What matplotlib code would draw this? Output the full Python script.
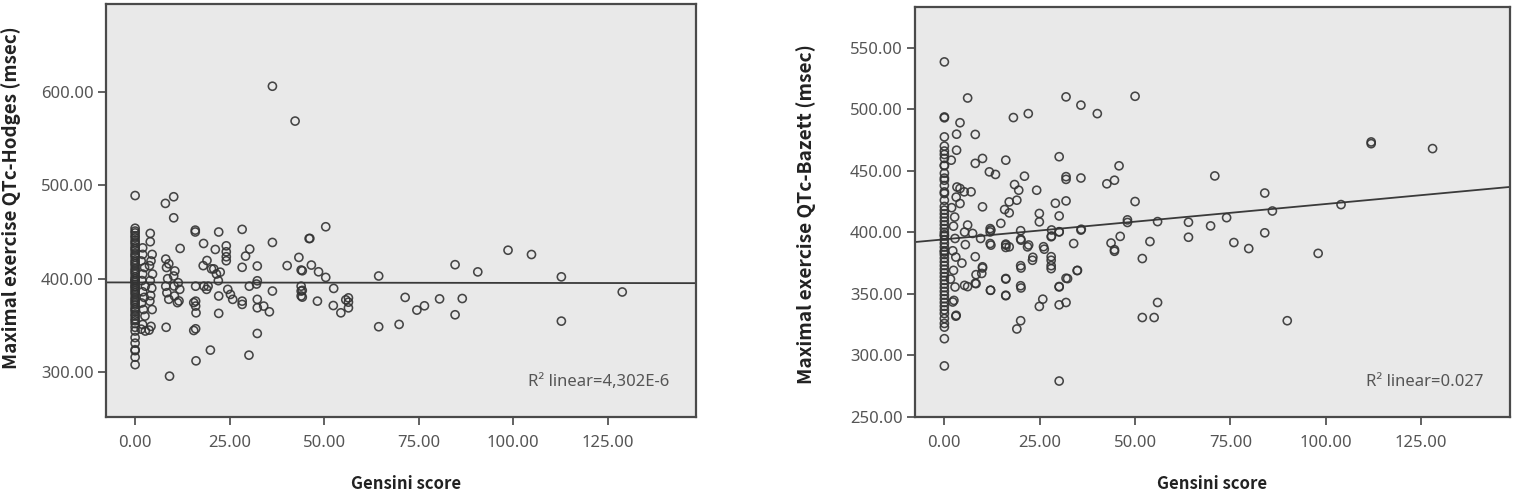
import matplotlib.pyplot as plt
import numpy as np

plt.rcParams.update(
    {
        "font.family": ["Noto Sans", "DejaVu Sans"],
        "font.size": 12,
    }
)
BOLD_FONT = ["Noto Sans CJK KR", "DejaVu Sans"]

# ---- left panel: Gensini score vs QTc-Hodges ----
hodges_gensini = [
    # x = 0 column
    0, 0, 0, 0, 0, 0, 0, 0, 0, 0, 0, 0, 0, 0, 0, 0, 0, 0, 0, 0,
    0, 0, 0, 0, 0, 0, 0, 0, 0, 0, 0, 0, 0, 0, 0, 0, 0, 0, 0, 0,
    0, 0, 0, 0, 0, 0, 0, 0, 0, 0, 0, 0, 0, 0, 0, 0,
    # small scores
    2, 2, 1.6, 2.5, 2, 1.8, 2.7, 2, 2.4, 1.7, 2.2, 2.6, 2, 1.6, 2.7,
    4, 4, 4.5, 4.2, 3.8, 4.6, 4, 4.4, 4.1, 3.9, 4.5, 4.2, 3.7,
    8, 10.2, 8.1, 8.9, 8.3, 8.6, 8.1, 8.4, 8.9, 8.2, 9.1,
    10.2, 11.9, 10.5, 10.2, 11.4, 10.3, 11.8, 10.4, 11.2, 11.6,
    15.9, 15.9, 16, 15.5, 16, 16, 16.1, 16, 15.5, 16.1,
    18.1, 18, 19, 18.2, 18.9, 19.3,
    21.2, 20.8, 21.5, 22, 20.2, 22.5, 22.1, 22.1, 22.1, 19.9,
    24.1, 24.1, 24.1, 24.1, 24.5, 25.8, 25.2,
    28.3, 29.2, 28.3, 28.3, 28.3, 30.2, 30.1, 30.3,
    32.3, 32.3, 32.1, 32.3, 32.3, 32.3,
    34, 35.5, 36.3, 36.3, 36.3,
    42.3, 40.2, 43.3, 43.9, 46, 43.9, 43.9, 43.9, 46.2, 44.2, 46.6,
    48.5, 50.4, 50.4, 52.5, 44.2, 44.2, 48.2, 52.4, 54.4, 56.4, 56.4, 56.4, 55.7,
    64.4, 64.4, 69.8, 71.4, 74.5, 76.5, 80.5, 84.6, 84.6, 86.5, 90.6,
    98.6, 104.8, 112.7, 112.7, 128.8,
]
hodges_qtc = [
    # x = 0 column
    489, 454, 451, 449, 446, 444, 441, 439, 437, 434, 432, 430, 427, 425, 423, 420,
    418, 416, 414, 411, 409, 407, 405, 402, 400, 398, 396, 394, 391, 389, 387, 385,
    383, 380, 378, 376, 374, 372, 369, 367, 365, 362, 360, 357, 355, 352, 348, 344,
    337, 331, 324, 323, 316, 308, 392, 398,
    # small scores
    433, 426, 419, 412, 405, 398, 392, 386, 380, 374, 367, 360, 351, 346, 344,
    448.5, 439.6, 426, 419, 414, 405, 398, 390, 382, 376, 367, 349, 345,
    480.6, 487.7, 421, 416, 412, 400, 392, 385, 378, 348, 295.7,
    465.2, 432.4, 408.3, 402.9, 395.7, 392.2, 388.6, 381.5, 374.4, 376.2,
    452, 450, 392, 374.4, 376, 370.7, 363.5, 346.4, 344.6, 312.1,
    437.7, 414, 419.5, 392, 388.6, 392,
    431.3, 410.5, 405, 397.9, 410.5, 407, 381.5, 362.9, 450, 323.6,
    435.2, 428.8, 423.5, 419.2, 388.6, 377.9, 383.2,
    452.8, 424.2, 412.2, 376, 372.5, 392, 318.2, 431.7,
    413.6, 397.8, 394.3, 377.9, 368.9, 341.4,
    370.7, 364.6, 438.8, 386.8, 606,
    568.7, 414, 422.8, 409.3, 443, 392, 386.8, 381.5, 443.1, 408.5, 414.6,
    407.4, 401.4, 455.6, 389.6, 387.5, 380.3, 376, 371.3, 363.5, 379.5, 374.9, 368.8, 377.4,
    402.9, 348.6, 351.1, 380, 366.4, 371, 378.4, 415, 361.4, 378.8, 407.3,
    430.5, 425.9, 402, 354.6, 385.8,
]

# ---- right panel: Gensini score vs QTc-Bazett ----
bazett_gensini = [
    # x = 0 column
    0, 0, 0, 0, 0, 0, 0, 0, 0, 0, 0, 0, 0, 0, 0, 0, 0, 0, 0, 0,
    0, 0, 0, 0, 0, 0, 0, 0, 0, 0, 0, 0, 0, 0, 0, 0, 0, 0, 0, 0,
    0, 0, 0, 0, 0, 0, 0, 0, 0, 0, 0, 0, 0, 0,
    # small scores
    1.8, 4.1, 3.2, 3.2, 2.2, 3.1, 2.5, 2.8, 2.4, 3, 2.7, 3.1, 3.3, 3, 1.9, 2.4, 2.8, 2.2, 1.6,
    4.1, 4.1, 5.2, 7, 6.1, 7.4, 6.1, 5.3, 5.3, 6.1, 5.5, 4.6,
    8.1, 8.1, 10, 10, 10, 9.8, 8.1, 8.1, 8.3, 8.3, 10, 9.5,
    11.8, 13.4, 12, 12, 12, 12.1, 12.1, 12.2, 12.2, 14.8,
    16.1, 16.1, 16.1, 16.1, 16.1, 15.8, 17, 17, 18.1, 16.1, 16.1, 16.1, 17,
    18.4, 19, 19.5, 21, 22, 20, 20, 20, 20, 20, 19, 23.2, 22.1, 20.1, 20.1, 20.1, 21.8, 23.1,
    24.2, 24.9, 24.9, 24.9, 25.8, 26, 28, 28, 28.1, 28.1, 29.1, 26.2, 28, 28, 28,
    30.1, 30.1, 30.1, 30.1, 30.1, 30.1, 31.9, 31.9, 31.9, 31.9, 31.9, 31.9,
    33.9, 34.8, 35.9, 35.8, 35.8, 35.8, 30.1, 30.1, 32.3, 34.9,
    40.1, 42.6, 44.6, 45.8, 46.1, 43.7, 44.6, 44.6, 48, 48, 50, 50,
    51.9, 53.9, 55.9, 51.9, 55, 55.9,
    64, 64, 69.8, 70.9, 74, 75.9, 79.8, 84, 84, 86, 89.9, 98, 104, 111.9, 111.9, 128,
]
bazett_qtc = [
    # x = 0 column
    538.4, 493.7, 493, 477.5, 470, 466, 463.2, 460, 454.5, 454, 448, 444, 442.3, 438,
    432.8, 431.5, 426, 421, 418, 415, 412, 409, 406, 403, 400, 397, 394, 391, 388, 385,
    382, 379, 376, 373, 370, 367, 364, 361, 358, 355, 352, 349, 346, 343, 340, 337,
    334, 330, 326, 323, 313.6, 291.5, 398, 384,
    # small scores
    458.6, 489, 479.7, 466.7, 343.4, 332.6, 344.7, 355.6, 369.1, 379.9, 412.4, 428.6,
    436.8, 331.9, 420, 405, 395, 385, 362,
    435.6, 423.4, 432.9, 432.9, 405.9, 399.1, 355.9, 356.9, 400.2, 509.1, 390, 375,
    479.5, 456, 460, 420.7, 372, 366.6, 380.2, 358.6, 358.3, 365.6, 371, 395,
    449.1, 447, 403, 400.3, 390.9, 352.9, 353, 389.6, 401.8, 407.3,
    458.6, 390.4, 387.7, 362, 348.5, 418.5, 415.8, 424.7, 493.2, 362.5, 348.9, 389.6, 388.2,
    438.8, 426.1, 434.2, 445.6, 496.4, 401.3, 394.5, 372.9, 356.6, 328.2, 321.5, 379.7,
    389.7, 371, 354.8, 393.6, 388.2, 377.3,
    434.2, 415.3, 408.5, 339.8, 345.7, 388.3, 380.2, 372.9, 401.9, 397, 423.6, 386.3,
    377.3, 370.5, 396.4,
    461.4, 413.3, 400.3, 279.2, 356, 341.1, 510, 445.2, 443, 425.5, 362.7, 343,
    390.9, 368.9, 402.5, 503.3, 444.1, 401.8, 400.5, 355.6, 362.4, 369.1,
    496.4, 439.4, 442.3, 454, 396.7, 391.3, 385.9, 384.6, 410.1, 408, 425, 510.5,
    378.7, 392.5, 343, 330.8, 330.8, 408.7,
    408.2, 396, 405.2, 445.8, 411.9, 391.7, 386.8, 431.9, 399.6, 417.3, 328.2, 382.9,
    422.5, 473.4, 472, 468,
]

# fit lines (intercept, slope)
hodges_fit = [396.0, -0.005]
bazett_fit = [394.3, 0.287]
hodges_r2 = "R² linear=4,302E-6"
bazett_r2 = "R² linear=0.027"

x_ticks = [0, 25, 50, 75, 100, 125]
hodges_yticks = [300, 400, 500, 600]
bazett_yticks = [250, 300, 350, 400, 450, 500, 550]

W, H = 1519, 492
fig = plt.figure(figsize=(W / 100, H / 100), dpi=100)

axes_box_px = {
    "left": (106, 4, 696, 417),
    "right": (915, 7, 1510, 417),
}


def make_axes(box):
    x0, y0, x1, y1 = box
    return fig.add_axes([x0 / W, 1 - y1 / H, (x1 - x0) / W, (y1 - y0) / H])


def draw_panel(ax, xs, ys, fit, r2, yticks, ylim):
    ax.set_facecolor("#e9e9e9")
    ax.scatter(xs, ys, s=34, facecolors="none", edgecolors="#333333",
               linewidths=1.15, alpha=0.9, zorder=3)
    xlim = (-7.7, 148.3)
    xx = np.array(xlim)
    ax.plot(xx, fit[0] + fit[1] * xx, color="#3a3a3a", lw=1.3, zorder=2)
    ax.set_xlim(*xlim)
    ax.set_ylim(*ylim)
    ax.set_xticks(x_ticks)
    ax.set_xticklabels([f"{t:.2f}" for t in x_ticks])
    ax.set_yticks(yticks)
    ax.set_yticklabels([f"{t:.2f}" for t in yticks])
    for s in ax.spines.values():
        s.set_color("#4a4a4a")
        s.set_linewidth(1.6)
    ax.tick_params(axis="both", direction="out", length=6, width=1.3,
                   color="#555555", labelcolor="#555555", labelsize=12)
    ax.tick_params(axis="x", pad=7)
    ax.tick_params(axis="y", pad=3)
    ax.text(0.955, 0.085, r2, transform=ax.transAxes, ha="right", va="center",
            color="#555555", fontsize=12)


ax1 = make_axes(axes_box_px["left"])
draw_panel(ax1, hodges_gensini, hodges_qtc, hodges_fit, hodges_r2,
           hodges_yticks, (252, 694))

ax2 = make_axes(axes_box_px["right"])
draw_panel(ax2, bazett_gensini, bazett_qtc, bazett_fit, bazett_r2,
           bazett_yticks, (250, 583))

# axis titles
for cx in (406, 1212):
    fig.text(cx / W, 1 - 475 / H, "Gensini score", ha="center", va="top",
             fontsize=12, fontweight="bold", family=BOLD_FONT, color="#222222")
fig.text(1 / W, 1 - 198 / H, "Maximal exercise QTc-Hodges (msec)", rotation=90,
         ha="left", va="center", fontsize=13.5, fontweight="bold",
         family=BOLD_FONT, color="#222222")
fig.text(806 / W, 1 - 214 / H, "Maximal exercise QTc-Bazett (msec)", rotation=90,
         ha="center", va="center", fontsize=13.8, fontweight="bold",
         family=BOLD_FONT, color="#222222")

plt.savefig("out.png", dpi=100)
